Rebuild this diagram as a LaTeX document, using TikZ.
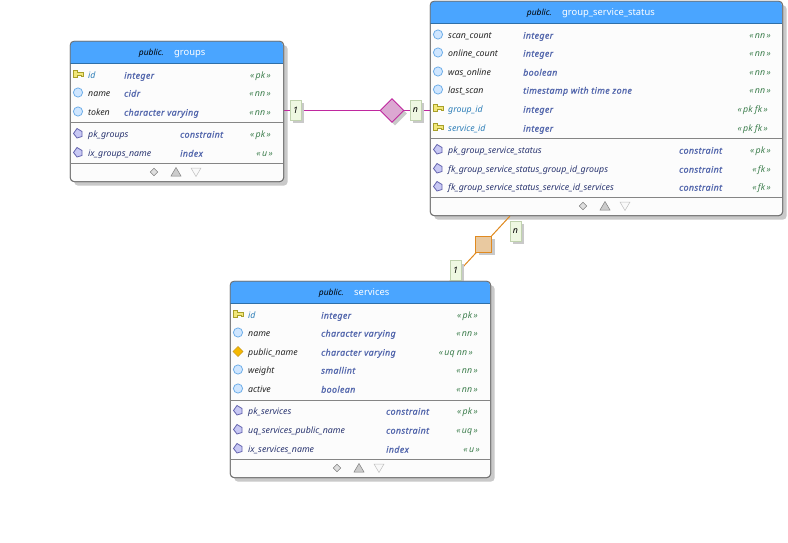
\documentclass[tikz,border=0pt]{standalone}
\usepackage{fontspec}
\setmainfont{Noto Sans}
\newfontfamily\typefont[ItalicFeatures={FakeBold=1,LetterSpace=4.4}]{Noto Sans}
\usetikzlibrary{arrows.meta,positioning,shapes.geometric,shadows}
\definecolor{headblue}{HTML}{4AA5FF}
\definecolor{headline}{HTML}{2F6FA8}
\definecolor{edgegray}{HTML}{707070}
\definecolor{rulegray}{HTML}{858585}
\definecolor{shadegray}{HTML}{C9C9C9}
\definecolor{bodywhite}{HTML}{FCFCFC}
\definecolor{pkblue}{HTML}{2F7FB8}
\definecolor{typeblue}{HTML}{5266AC}
\definecolor{flaggreen}{HTML}{3F7F4F}
\definecolor{conname}{HTML}{2A3570}
\definecolor{fkmagenta}{HTML}{C0289F}
\definecolor{fkmagentafill}{HTML}{DCA8D2}
\definecolor{fkorange}{HTML}{E08A20}
\definecolor{fkorangefill}{HTML}{E9C9A0}
\definecolor{labelgreen}{HTML}{EFF8E2}
\definecolor{labeledge}{HTML}{C0D2AE}
\definecolor{keyfill}{HTML}{F2E77A}
\definecolor{keyedge}{HTML}{A8A02A}
\definecolor{colfill}{HTML}{CFE6FF}
\definecolor{coledge}{HTML}{6FAEE8}
\definecolor{uqfill}{HTML}{F5B800}
\definecolor{uqedge}{HTML}{C99A20}
\definecolor{confill}{HTML}{C8C8F4}
\definecolor{conedge}{HTML}{6464AE}

\tikzset{
  keyicon/.pic={\draw[draw=keyedge, fill=keyfill, line width=.8pt]
    (-5,-4) -- (-1,-4) -- (-1,-2) -- (5,-2) -- (5,2) -- (3,2) -- (3,.5) -- (-1,.5) -- (-1,2.5) -- (-5,2.5) -- cycle;},
  colicon/.pic={\draw[draw=coledge, fill=colfill, line width=.8pt] (0,0) circle (4.6);},
  uqicon/.pic={\draw[draw=uqedge, fill=uqfill, line width=.6pt]
    (0,-5) -- (5,0) -- (0,5) -- (-5,0) -- cycle;},
  conicon/.pic={\draw[draw=conedge, fill=confill, line width=.8pt]
    (-1,-5) -- (4,-2) -- (4,3) -- (-1,4.5) -- (-4.5,0) -- cycle;},
  footicons/.pic={
    \draw[draw=gray, fill=gray!25, line width=.5pt] (-22,-3.8) -- (-18.2,0) -- (-22,3.8) -- (-25.8,0) -- cycle;
    \draw[draw=gray, fill=gray!40, line width=.5pt] (-5,4) -- (5,4) -- (0,-4.5) -- cycle;
    \draw[draw=gray!50, fill=gray!5, line width=.5pt] (15,-4) -- (25,-4) -- (20,4.5) -- cycle;},
}
\newcommand{\tablerows}[5]{
  \foreach \rowy/\rowname/\rowtype/\rowflag/\flagx/\rowicon/\namecol in {#5} {
    \pic at (#2,\rowy-1.5) {\rowicon};
    \node[fieldtext, text=\namecol] (#1-\rowy-name) at (#3,\rowy) {\rowname};
    \node[fieldtype] (#1-\rowy-type) at (#4,\rowy) {\rowtype};
    \node[fieldflag] (#1-\rowy-flag) at (\flagx,\rowy) {\rowflag};
  }
}

\begin{document}
\begin{tikzpicture}[
  x=1pt, y=-1pt,
  every node/.style={font=\fontsize{8.8}{10}\selectfont\itshape, inner sep=0pt},
  tablebox/.style={rectangle, draw=edgegray, fill=bodywhite, rounded corners=4pt, anchor=north west,
    line width=.8pt, drop shadow={shadow xshift=4pt, shadow yshift=-4pt, fill=shadegray, opacity=1}},
  tableedge/.style={rectangle, draw=edgegray, rounded corners=4pt, anchor=north west, line width=.8pt},
  tablehead/.style={fill=headblue},
  tablerule/.style={draw=rulegray, line width=.8pt},
  fieldtext/.style={anchor=mid west},
  fieldtype/.style={anchor=mid west, text=typeblue, font=\fontsize{8.8}{10}\selectfont\typefont\itshape},
  fieldflag/.style={anchor=mid east, text=flaggreen},
  schemaname/.style={anchor=mid east, text=black, font=\fontsize{8.4}{10}\selectfont\itshape},
  tablename/.style={anchor=mid west, text=white, font=\fontsize{9.4}{10}\selectfont},
  cardbox/.style={rectangle, draw=labeledge, fill=labelgreen, minimum width=11pt, minimum height=20pt,
    line width=.7pt, drop shadow={shadow xshift=3pt, shadow yshift=-3pt, fill=shadegray, opacity=1}},
  relmag/.style={draw=fkmagenta, line width=1.2pt},
  relora/.style={draw=fkorange, line width=1pt},
  reldiamond/.style={diamond, draw=fkmagenta, fill=fkmagentafill, minimum width=24pt, minimum height=24pt, line width=.9pt},
  relsquare/.style={rectangle, draw=fkorange, fill=fkorangefill, minimum width=16pt, minimum height=16pt, line width=.9pt},
  relshade/.style={drop shadow={shadow xshift=3pt, shadow yshift=-3pt, fill=shadegray, opacity=1}},
]
  \useasboundingbox (0,0) rectangle (788,543);
  \fill[white] (0,0) rectangle (788,543);

  % tables
  \node[tablebox, minimum width=213.5pt, minimum height=140.5pt] (groups) at (69.8,40.8) {};
  \node[tablebox, minimum width=352.5pt, minimum height=214.5pt] (status) at (429.8,.8) {};
  \node[tablebox, minimum width=260.5pt, minimum height=196.5pt] (services) at (229.8,280.8) {};

  % relationships
  \coordinate (groupsline) at (392,110.5);
  \coordinate (statusfoot) at (510,216);
  \coordinate (servicestop) at (450,281);
  \draw[relmag] (groups.east |- groupsline) -- (status.west |- groupsline);
  \draw[relora] (statusfoot) -- (servicestop);
  \node[reldiamond, relshade] (groupsrel) at (groupsline) {};
  \node[relsquare, relshade] (servicesrel) at (483.5,244) {};

  \node[cardbox] (groupsone) at (295.5,110.5) {1};
  \node[cardbox] (statusn) at (415.5,110.5) {n};
  \node[cardbox] (statusm) at (515.5,231) {n};
  \node[cardbox] (servicesone) at (455.5,270.5) {1};

  % headers
  \fill[tablehead] (70.2,63) [rounded corners=4pt] -- (70.2,41.2) -- (282.9,41.2) [sharp corners] -- (282.9,63) -- cycle;
  \fill[tablehead] (430.2,23) [rounded corners=4pt] -- (430.2,1.2) -- (781.9,1.2) [sharp corners] -- (781.9,23) -- cycle;
  \fill[tablehead] (230.2,303) [rounded corners=4pt] -- (230.2,281.2) -- (489.9,281.2) [sharp corners] -- (489.9,303) -- cycle;
  \draw[draw=headline, line width=.8pt] (70,63) -- (283.3,63);
  \draw[draw=headline, line width=.8pt] (430,23) -- (782.3,23);
  \draw[draw=headline, line width=.8pt] (230,303) -- (490.3,303);
  \node[tableedge, minimum width=213.5pt, minimum height=140.5pt] (groupsedge) at (69.8,40.8) {};
  \node[tableedge, minimum width=352.5pt, minimum height=214.5pt] (statusedge) at (429.8,.8) {};
  \node[tableedge, minimum width=260.5pt, minimum height=196.5pt] (servicesedge) at (229.8,280.8) {};

  \node[schemaname] (groupsschema) at (164,52.5) {public.};
  \node[tablename] (groupstitle) at (174,52.5) {groups};
  \node[schemaname] (statusschema) at (552,12.5) {public.};
  \node[tablename] (statustitle) at (562,12.5) {group\_service\_status};
  \node[schemaname] (servicesschema) at (344,292.5) {public.};
  \node[tablename] (servicestitle) at (354,292.5) {services};

  \draw[tablerule] (70,122) -- (283.3,122);
  \draw[tablerule] (70,163) -- (283.3,163);
  \draw[tablerule] (430,138) -- (782.3,138);
  \draw[tablerule] (430,197) -- (782.3,197);
  \draw[tablerule] (230,400) -- (490.3,400);
  \draw[tablerule] (230,459) -- (490.3,459);

  \tablerows{groups}{78}{88}{124}{
    76/id/integer/«\,pk\,»/271/keyicon/pkblue,
    94/name/cidr/«\,nn\,»/271/colicon/black!85,
    113/token/character varying/«\,nn\,»/271/colicon/black!85}
  \tablerows{groupscon}{78}{88}{180}{
    135/pk\_groups/constraint/«\,pk\,»/271/conicon/conname,
    154/ix\_groups\_name/index/«\,u\,»/273/conicon/conname}
  \tablerows{status}{438}{448}{523}{
    36/scan\_count/integer/«\,nn\,»/771/colicon/black!85,
    54/online\_count/integer/«\,nn\,»/771/colicon/black!85,
    73/was\_online/boolean/«\,nn\,»/771/colicon/black!85,
    91/last\_scan/timestamp with time zone/«\,nn\,»/771/colicon/black!85,
    110/group\_id/integer/«\,pk fk\,»/768/keyicon/pkblue,
    129/service\_id/integer/«\,pk fk\,»/768/keyicon/pkblue}
  \tablerows{statuscon}{438}{448}{679}{
    151/pk\_group\_service\_status/constraint/«\,pk\,»/771/conicon/conname,
    170/fk\_group\_service\_status\_group\_id\_groups/constraint/«\,fk\,»/771/conicon/conname,
    188/fk\_group\_service\_status\_service\_id\_services/constraint/«\,fk\,»/771/conicon/conname}
  \tablerows{services}{238}{248}{321}{
    316/id/integer/«\,pk\,»/478/keyicon/pkblue,
    334/name/character varying/«\,nn\,»/478/colicon/black!85,
    353/public\_name/character varying/«\,uq nn\,»/473/uqicon/black!85,
    371/weight/smallint/«\,nn\,»/478/colicon/black!85,
    390/active/boolean/«\,nn\,»/478/colicon/black!85}
  \tablerows{servicescon}{238}{248}{386}{
    412/pk\_services/constraint/«\,pk\,»/478/conicon/conname,
    431/uq\_services\_public\_name/constraint/«\,uq\,»/478/conicon/conname,
    450/ix\_services\_name/index/«\,u\,»/480/conicon/conname}

  \pic at (176,172) {footicons};
  \pic at (605,206) {footicons};
  \pic at (359,468) {footicons};
\end{tikzpicture}
\end{document}
